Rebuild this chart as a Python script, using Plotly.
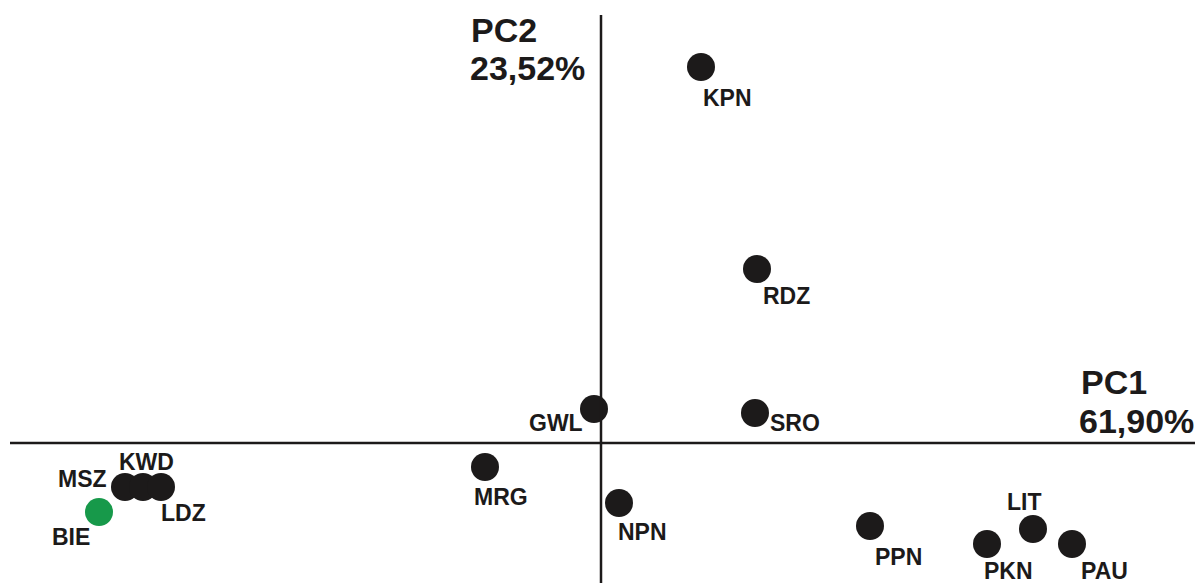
import plotly.graph_objects as go

# PCA scores (arbitrary units)
labels = ["KPN", "RDZ", "GWL", "SRO", "MRG", "MSZ", "KWD", "LDZ", "BIE",
          "NPN", "PPN", "LIT", "PKN", "PAU"]
pc1 = [1.00, 1.56, -0.07, 1.54, -1.16, -4.76, -4.58, -4.40, -5.02,
       0.18, 2.69, 4.32, 3.86, 4.71]
pc2 = [3.76, 1.74, 0.34, 0.30, -0.24, -0.44, -0.44, -0.44, -0.69,
       -0.60, -0.83, -0.86, -1.01, -1.01]
groups = ["other"] * 8 + ["BIE"] + ["other"] * 5

# label offsets (pixels): text centre relative to marker centre
label_dx = [26, 29, -38, 40, 16, -43, 3, 22, -28, 23, 28, -9, 21, 32]
label_dy = [-31, -27, -14, -10, -30, 8, 25, -26, -25, -29, -31, 27, -27, -27]

W, H = 1204, 583
BLACK = "#1c1a1a"
GREEN = "#17994a"

colors = [GREEN if g == "BIE" else BLACK for g in groups]

fig = go.Figure()
fig.add_trace(go.Scatter(
    x=pc1, y=pc2, mode="markers",
    marker=dict(size=28, color=colors, line=dict(width=0)),
    hoverinfo="text", text=labels, showlegend=False,
))

FONT = "Liberation Sans, Arial, sans-serif"
for lab, x, y, dx, dy in zip(labels, pc1, pc2, label_dx, label_dy):
    fig.add_annotation(x=x, y=y, text="<b>%s</b>" % lab, showarrow=False,
                       xshift=dx, yshift=dy, xanchor="center", yanchor="middle",
                       borderpad=0,
                       font=dict(family=FONT, size=23, color=BLACK))

# axes lines
fig.add_shape(type="line", x0=-5.91, x1=5.94, y0=0, y1=0,
              line=dict(color=BLACK, width=2.5))
fig.add_shape(type="line", x0=0, x1=0, y0=-1.45, y1=4.28,
              line=dict(color=BLACK, width=2.5))


def px(xp, yp):
    return xp / W, 1 - yp / H


for txt, xp, yp in [("PC2", 469, 30), ("23,52%", 468, 68),
                    ("PC1", 1079, 382), ("61,90%", 1077, 421)]:
    xx, yy = px(xp, yp)
    fig.add_annotation(x=xx, y=yy, xref="paper", yref="paper",
                       text="<b>%s</b>" % txt, showarrow=False,
                       xanchor="left", yanchor="middle",
                       font=dict(family=FONT, size=34, color=BLACK))

fig.update_xaxes(range=[-6.01, 6.03], visible=False, fixedrange=True)
fig.update_yaxes(range=[-1.40, 4.43], visible=False, fixedrange=True)
fig.update_layout(width=W, height=H, margin=dict(l=0, r=0, t=0, b=0),
                  paper_bgcolor="white", plot_bgcolor="white")

fig.write_html("out.html")
